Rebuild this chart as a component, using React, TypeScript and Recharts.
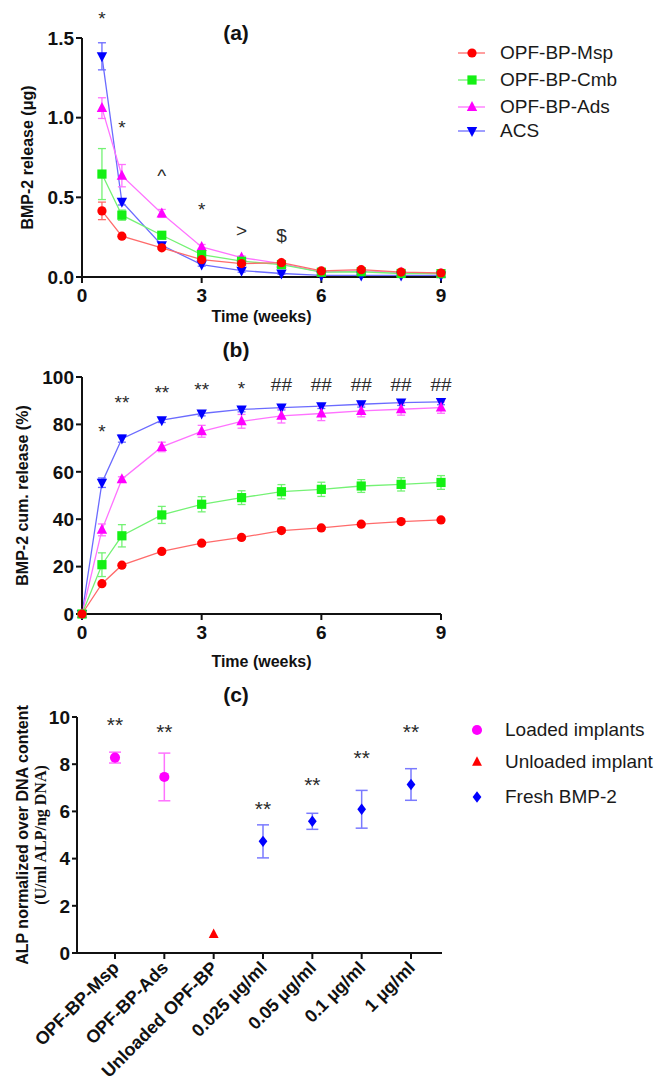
import React from "react";
import { LineChart, Line, XAxis, YAxis, ErrorBar, Legend, ReferenceDot } from "recharts";

// ---- (a) weekly BMP-2 release (µg) ----
const WEEKS_A = [0.5, 1, 2, 3, 4, 5, 6, 7, 8, 9];
const MSP_A = [0.415, 0.256, 0.183, 0.109, 0.084, 0.09, 0.038, 0.046, 0.031, 0.025];
const CMB_A = [0.646, 0.388, 0.262, 0.14, 0.099, 0.078, 0.03, 0.033, 0.022, 0.021];
const ADS_A = [1.06, 0.636, 0.399, 0.189, 0.122, 0.084, 0.03, 0.04, 0.028, 0.02];
const ACS_A = [1.385, 0.472, 0.199, 0.078, 0.04, 0.022, 0.01, 0.01, 0.01, 0.01];
const MSP_A_ERR = [0.055, 0.01, 0.01, 0.01, 0.006, 0.006, 0.005, 0.005, 0.005, 0.005];
const CMB_A_ERR = [0.16, 0.032, 0.02, 0.01, 0.01, 0.01, 0.005, 0.005, 0.005, 0.005];
const ADS_A_ERR = [0.065, 0.07, 0.025, 0.015, 0.01, 0.01, 0.005, 0.005, 0.005, 0.005];
const ACS_A_ERR = [0.085, 0.02, 0.015, 0.01, 0.01, 0.005, 0.005, 0.005, 0.005, 0.005];
const NOTE_A_X = [0.5, 1, 2, 3, 4, 5];
const NOTE_A_Y = [1.647, 0.965, 0.66, 0.45, 0.295, 0.26];
const NOTE_A_TEXT = ["*", "*", "^", "*", ">", "$"];

// ---- (b) cumulative release (%) ----
const WEEKS_B = [0, 0.5, 1, 2, 3, 4, 5, 6, 7, 8, 9];
const MSP_B = [0, 12.8, 20.6, 26.4, 29.9, 32.3, 35.2, 36.3, 37.9, 39, 39.7];
const CMB_B = [0, 20.8, 33, 41.8, 46.3, 49.1, 51.6, 52.6, 54, 54.7, 55.5];
const ADS_B = [0, 35.5, 56.9, 70.5, 77.1, 81.3, 83.6, 84.6, 85.7, 86.4, 87.1];
const ACS_B = [0, 55.4, 74, 81.8, 84.6, 86.3, 87.1, 87.7, 88.5, 89.2, 89.5];
const MSP_B_ERR = [0, 0.6, 0.6, 0.6, 0.6, 0.6, 0.6, 0.6, 0.6, 0.6, 0.6];
const CMB_B_ERR = [0, 5, 4.7, 3.6, 3.2, 2.9, 3, 3, 2.7, 2.8, 2.9];
const ADS_B_ERR = [0, 2.5, 1, 2, 2.5, 2.9, 3, 3, 2.5, 2.5, 2.4];
const ACS_B_ERR = [0, 2, 1.5, 1, 1, 1, 1, 1, 1.2, 1.2, 1.2];
const NOTE_B_X = [0.5, 1, 2, 3, 4, 5, 6, 7, 8, 9];
const NOTE_B_Y = [79, 91.2, 95.1, 96.5, 96.9, 96.9, 96.9, 96.9, 96.9, 96.9];
const NOTE_B_TEXT = ["*", "**", "**", "**", "*", "##", "##", "##", "##", "##"];

// ---- (c) ALP activity ----
const GROUPS = ["OPF-BP-Msp", "OPF-BP-Ads", "Unloaded OPF-BP", "0.025 µg/ml", "0.05 µg/ml", "0.1 µg/ml", "1 µg/ml"];
const LOADED = [8.28, 7.46, null, null, null, null, null];
const LOADED_ERR = [0.23, 1.01, null, null, null, null, null];
const UNLOADED = [null, null, 0.8, null, null, null, null];
const FRESH = [null, null, null, 4.73, 5.58, 6.09, 7.14];
const FRESH_ERR = [null, null, null, 0.7, 0.34, 0.8, 0.67];
const NOTE_C_Y = [9.86, 9.58, null, 6.3, 7.35, 8.49, 9.58];

const FONT = "'Liberation Sans', Arial, Helvetica, sans-serif";
const TICK = { fontSize: 19, fontWeight: 700, fill: "#111", fontFamily: FONT };
const AXIS = { stroke: "#111", strokeWidth: 2 };

const SERIES = [
  { key: "msp", name: "OPF-BP-Msp", color: "#ff0000", line: "#ff6b6b", shape: "circle" },
  { key: "cmb", name: "OPF-BP-Cmb", color: "#14f014", line: "#74f274", shape: "square" },
  { key: "ads", name: "OPF-BP-Ads", color: "#ff00ff", line: "#ff72ff", shape: "up" },
  { key: "acs", name: "ACS", color: "#0000ff", line: "#6b6bff", shape: "down" },
];

const rowsA = WEEKS_A.map((t, i) => ({
  t,
  msp: MSP_A[i], mspErr: MSP_A_ERR[i],
  cmb: CMB_A[i], cmbErr: CMB_A_ERR[i],
  ads: ADS_A[i], adsErr: ADS_A_ERR[i],
  acs: ACS_A[i], acsErr: ACS_A_ERR[i],
}));
const rowsB = WEEKS_B.map((t, i) => ({
  t,
  msp: MSP_B[i], mspErr: MSP_B_ERR[i],
  cmb: CMB_B[i], cmbErr: CMB_B_ERR[i],
  ads: ADS_B[i], adsErr: ADS_B_ERR[i],
  acs: ACS_B[i], acsErr: ACS_B_ERR[i],
}));
const rowsC = GROUPS.map((name, i) => ({
  name,
  loaded: LOADED[i], loadedErr: LOADED_ERR[i],
  unloaded: UNLOADED[i],
  fresh: FRESH[i], freshErr: FRESH_ERR[i],
}));

function Marker({ cx, cy, shape, color, s = 1 }: any) {
  if (shape === "circle") return <circle cx={cx} cy={cy} r={4.6 * s} fill={color} />;
  if (shape === "square")
    return <rect x={cx - 4.6 * s} y={cy - 4.6 * s} width={9.2 * s} height={9.2 * s} fill={color} />;
  if (shape === "up")
    return <polygon points={`${cx},${cy - 6 * s} ${cx - 5.2 * s},${cy + 4 * s} ${cx + 5.2 * s},${cy + 4 * s}`} fill={color} />;
  if (shape === "down")
    return <polygon points={`${cx},${cy + 6 * s} ${cx - 5.2 * s},${cy - 4 * s} ${cx + 5.2 * s},${cy - 4 * s}`} fill={color} />;
  return <polygon points={`${cx},${cy - 6 * s} ${cx + 4.6 * s},${cy} ${cx},${cy + 6 * s} ${cx - 4.6 * s},${cy}`} fill={color} />;
}

const dotFor = (shape: string, color: string, s = 1) => (p: any) => {
  const k = `${shape}-${p.index}`;
  if (p.value == null || p.cy == null || isNaN(p.cy)) return <g key={k} />;
  return <Marker key={k} cx={p.cx} cy={p.cy} shape={shape} color={color} s={s} />;
};

// vertical centre of the glyph above the baseline, in em
const glyphMid = (t: string) => (t.startsWith("*") ? 0.57 : t === "^" ? 0.53 : 0.36);

const Note = ({ cx, cy, text, size }: any) => (
  <text x={cx} y={cy + glyphMid(text) * size} textAnchor="middle" fontSize={size} fill="#2a2a2a" fontFamily={FONT}>
    {text}
  </text>
);

const YTitle = ({ viewBox, x0, lines }: any) => {
  const cy = viewBox.y + viewBox.height / 2;
  return (
    <g>
      {lines.map((l: any, i: number) => (
        <text
          key={i}
          x={x0[i]}
          y={cy}
          transform={`rotate(-90 ${x0[i]} ${cy})`}
          textAnchor="middle"
          dominantBaseline="central"
          fontSize={16}
          fontWeight={700}
          fill="#111"
          fontFamily={l.serif ? "'Liberation Serif', 'Times New Roman', serif" : FONT}
        >
          {l.text}
        </text>
      ))}
    </g>
  );
};

const SlantTick = ({ x, y, payload }: any) => (
  <text
    x={x + 5}
    y={y + 8}
    transform={`rotate(-45 ${x + 5} ${y + 8})`}
    textAnchor="end"
    fontSize={18}
    fontWeight={700}
    fill="#111"
    fontFamily={FONT}
  >
    {payload.value}
  </text>
);

const ROW_TOPS_A = [13, 40, 67, 91];
const LegendA = () => (
  <div style={{ position: "relative", width: 200, height: 110, fontFamily: FONT }}>
    {SERIES.map((s, i) => (
      <div key={s.key} style={{ position: "absolute", left: 0, top: ROW_TOPS_A[i] - 12, height: 24, display: "flex", alignItems: "center" }}>
        <svg width={42} height={14}>
          <line x1={0} y1={7} x2={27} y2={7} stroke={s.line} strokeWidth={1.3} />
          <Marker cx={14} cy={7} shape={s.shape} color={s.color} />
        </svg>
        <span style={{ fontSize: 19, color: "#1a1a1a" }}>{s.name}</span>
      </div>
    ))}
  </div>
);

const LEGEND_C = [
  { name: "Loaded implants", color: "#ff00ff", shape: "circle" },
  { name: "Unloaded implant", color: "#ff0000", shape: "up" },
  { name: "Fresh BMP-2", color: "#0000ff", shape: "diamond" },
];
const ROW_TOPS_C = [15, 47, 82];
const LegendC = () => (
  <div style={{ position: "relative", width: 200, height: 110, fontFamily: FONT }}>
    {LEGEND_C.map((s, i) => (
      <div key={s.name} style={{ position: "absolute", left: 0, top: ROW_TOPS_C[i] - 12, height: 24, display: "flex", alignItems: "center", whiteSpace: "nowrap" }}>
        <svg width={40} height={16}>
          <Marker cx={12} cy={8} shape={s.shape} color={s.color} s={s.shape === "circle" ? 1.1 : 0.95} />
        </svg>
        <span style={{ fontSize: 19, color: "#1a1a1a" }}>{s.name}</span>
      </div>
    ))}
  </div>
);

const PanelTitle = ({ text, x, y }: any) => (
  <div
    style={{
      position: "absolute", left: x, top: y, transform: "translate(-50%, -50%)",
      fontFamily: FONT, fontWeight: 700, fontSize: 21, color: "#111",
    }}
  >
    {text}
  </div>
);

function ReleaseChart({ rows, height, top, xAxisH, domain, ticks, fmt, title, notesX, notesY, notesText, legend }: any) {
  return (
    <LineChart
      width={656}
      height={height}
      data={rows}
      margin={{ top, right: 215, bottom: 0, left: 0 }}
      style={{ fontFamily: FONT }}
    >
      <XAxis
        dataKey="t"
        type="number"
        domain={[0, 9]}
        ticks={[0, 3, 6, 9]}
        tick={TICK}
        tickSize={6}
        tickMargin={6}
        axisLine={AXIS}
        tickLine={AXIS}
        height={xAxisH}
        label={{ value: "Time (weeks)", position: "insideBottom", offset: 8, style: { fontSize: 16, fontWeight: 700, fill: "#111" } }}
      />
      <YAxis
        type="number"
        domain={domain}
        ticks={ticks}
        tickFormatter={fmt}
        tick={TICK}
        tickSize={6}
        tickMargin={2}
        axisLine={AXIS}
        tickLine={AXIS}
        width={82}
        label={<YTitle x0={title.x} lines={title.lines} />}
      />
      {[...SERIES].reverse().map((s) => (
        <Line
          key={s.key}
          dataKey={s.key}
          name={s.name}
          type="linear"
          stroke={s.line}
          strokeWidth={1.3}
          dot={dotFor(s.shape, s.color)}
          activeDot={false}
          isAnimationActive={false}
        >
          <ErrorBar dataKey={`${s.key}Err`} direction="y" width={4} stroke={s.line} strokeWidth={1.3} />
        </Line>
      ))}
      {notesX.map((x: number, i: number) => (
        <ReferenceDot
          key={`n${i}`}
          x={x}
          y={notesY[i]}
          r={0}
          ifOverflow="visible"
          shape={(p: any) => <Note cx={p.cx} cy={p.cy} text={notesText[i]} size={19} />}
        />
      ))}
      {legend && (
        <Legend
          layout="vertical"
          align="center"
          verticalAlign="middle"
          content={() => <LegendA />}
          wrapperStyle={{ left: 458, top: 40, width: 200 }}
        />
      )}
    </LineChart>
  );
}

export default function App() {
  return (
    <div style={{ position: "absolute", left: 0, top: 0, width: 656, height: 1082, background: "#fff", overflow: "hidden" }}>
      <div style={{ position: "absolute", left: 0, top: 0 }}>
        <ReleaseChart
          rows={rowsA}
          height={330}
          top={38}
          xAxisH={53}
          domain={[0, 1.5]}
          ticks={[0, 0.5, 1, 1.5]}
          fmt={(v: number) => v.toFixed(1)}
          title={{ x: [27], lines: [{ text: "BMP-2 release (μg)" }] }}
          notesX={NOTE_A_X}
          notesY={NOTE_A_Y}
          notesText={NOTE_A_TEXT}
          legend
        />
      </div>
      <PanelTitle text="(a)" x={236} y={33} />

      <div style={{ position: "absolute", left: 0, top: 330 }}>
        <ReleaseChart
          rows={rowsB}
          height={345}
          top={47}
          xAxisH={61}
          domain={[0, 100]}
          ticks={[0, 20, 40, 60, 80, 100]}
          fmt={(v: number) => String(v)}
          title={{ x: [22], lines: [{ text: "BMP-2 cum. release (%)" }] }}
          notesX={NOTE_B_X}
          notesY={NOTE_B_Y}
          notesText={NOTE_B_TEXT}
        />
      </div>
      <PanelTitle text="(b)" x={236} y={350} />

      <div style={{ position: "absolute", left: 0, top: 675 }}>
        <LineChart width={656} height={407} data={rowsC} margin={{ top: 42, right: 214, bottom: 0, left: 0 }} style={{ fontFamily: FONT }}>
          <XAxis
            dataKey="name"
            type="category"
            scale="point"
            padding={{ left: 38, right: 31 }}
            tick={<SlantTick />}
            tickSize={6}
            tickMargin={2}
            axisLine={AXIS}
            tickLine={AXIS}
            height={129}
            interval={0}
          />
          <YAxis
            type="number"
            domain={[0, 10]}
            ticks={[0, 2, 4, 6, 8, 10]}
            tick={TICK}
            tickSize={5}
            tickMargin={2}
            axisLine={AXIS}
            tickLine={AXIS}
            width={77}
            label={<YTitle x0={[22, 40]} lines={[{ text: "ALP normalized over DNA content" }, { text: "(U/ml ALP/ng DNA)", serif: true }]} />}
          />
          <Line dataKey="loaded" name="Loaded implants" stroke="none" dot={dotFor("circle", "#ff00ff", 1.1)} activeDot={false} isAnimationActive={false}>
            <ErrorBar dataKey="loadedErr" direction="y" width={6} stroke="#ff72ff" strokeWidth={1.5} />
          </Line>
          <Line dataKey="unloaded" name="Unloaded implant" stroke="none" dot={dotFor("up", "#ff0000", 0.95)} activeDot={false} isAnimationActive={false} />
          <Line dataKey="fresh" name="Fresh BMP-2" stroke="none" dot={dotFor("diamond", "#0000ff", 0.95)} activeDot={false} isAnimationActive={false}>
            <ErrorBar dataKey="freshErr" direction="y" width={6} stroke="#7a7aff" strokeWidth={1.5} />
          </Line>
          {GROUPS.map((g, i) =>
            NOTE_C_Y[i] == null ? null : (
              <ReferenceDot
                key={`c${i}`}
                x={g}
                y={NOTE_C_Y[i] as number}
                r={0}
                ifOverflow="visible"
                shape={(p: any) => <Note cx={p.cx} cy={p.cy} text="**" size={21} />}
              />
            )
          )}
          <Legend
            layout="vertical"
            align="center"
            verticalAlign="middle"
            content={() => <LegendC />}
            wrapperStyle={{ left: 465, top: 40, width: 200 }}
          />
        </LineChart>
      </div>
      <PanelTitle text="(c)" x={236} y={695} />
    </div>
  );
}
